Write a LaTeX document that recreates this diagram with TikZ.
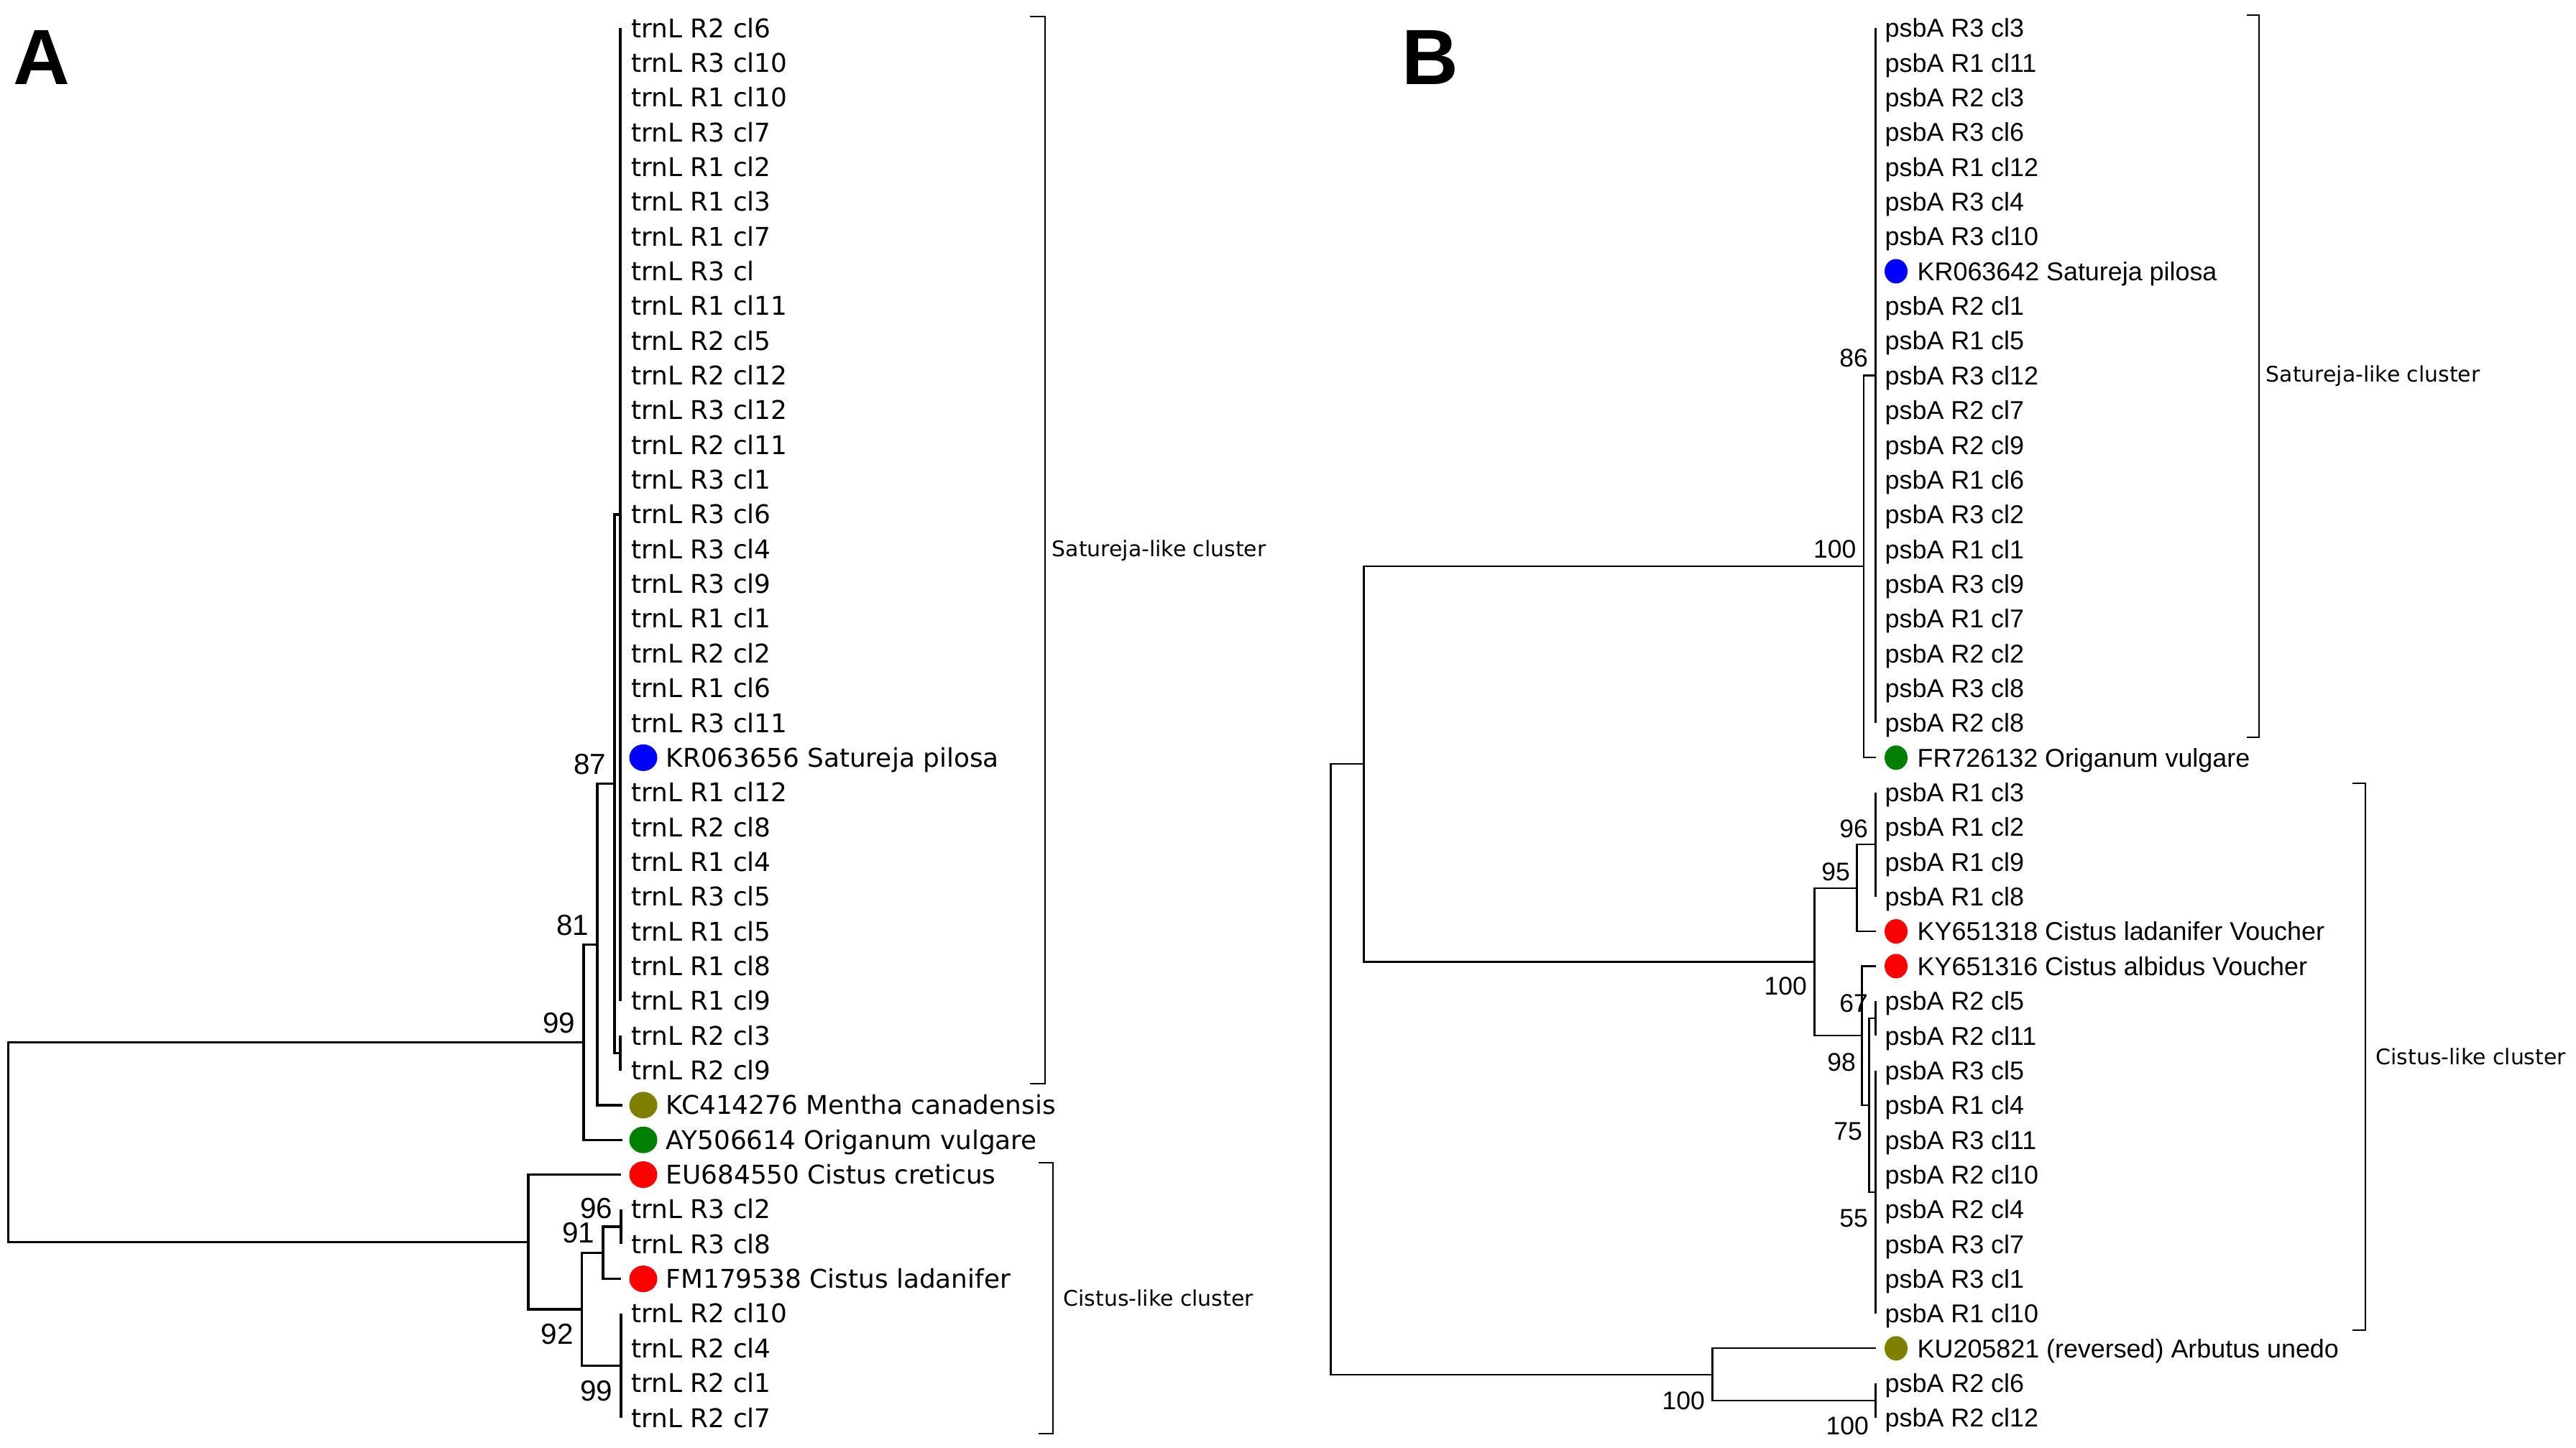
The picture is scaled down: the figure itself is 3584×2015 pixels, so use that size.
\documentclass[tikz,border=0pt]{standalone}
\usepackage{fontspec}
\setmainfont{Liberation Sans}
\newfontfamily\leaffontA{DejaVu Sans}
\usepackage{tikz}
\usetikzlibrary{calc,shapes.geometric}

\definecolor{dotblue}{RGB}{0,0,255}
\definecolor{dotgreen}{RGB}{0,128,0}
\definecolor{dotolive}{RGB}{128,128,0}
\definecolor{dotred}{RGB}{255,0,0}

\tikzset{
	branchA/.style={line width=0.95pt},
	branchB/.style={line width=0.6pt},
	bracket/.style={line width=0.6pt},
	leafA/.style={anchor=west, inner sep=0pt, font=\leaffontA\fontsize{10.2}{12}\selectfont, text height=7.4pt, text depth=0pt},
	leafB/.style={anchor=west, inner sep=0pt, font=\fontsize{10.2}{12}\selectfont, text height=7.3pt, text depth=0pt},
	bootA/.style={anchor=east, inner sep=0pt, font=\fontsize{11.5}{13}\selectfont},
	bootB/.style={anchor=east, inner sep=0pt, font=\fontsize{10.1}{12}\selectfont},
	dotA/.style={ellipse, inner sep=0pt, minimum width=0.39cm, minimum height=0.37cm},
	dotB/.style={ellipse, inner sep=0pt, minimum width=0.32cm, minimum height=0.34cm},
	cluster/.style={anchor=west, inner sep=0pt, font=\leaffontA\fontsize{8.5}{10}\selectfont},
	panel/.style={anchor=west, inner sep=0pt, font=\bfseries\fontsize{31}{36}\selectfont},
}

\begin{document}
\begin{tikzpicture}[x=0.01cm, y=-0.01cm]
	\useasboundingbox (0,0) rectangle (3584,2015);

	\node[panel] (panA) at (18,80) {A};
	\node[panel] (panB) at (1950,80) {B};

	% panel A: trnL tree
	\foreach \i/\lab in {1/trnL R2 cl6, 2/trnL R3 cl10, 3/trnL R1 cl10, 4/trnL R3 cl7, 5/trnL R1 cl2, 6/trnL R1 cl3, 7/trnL R1 cl7, 8/trnL R3 cl, 9/trnL R1 cl11, 10/trnL R2 cl5, 11/trnL R2 cl12, 12/trnL R3 cl12, 13/trnL R2 cl11, 14/trnL R3 cl1, 15/trnL R3 cl6, 16/trnL R3 cl4, 17/trnL R3 cl9, 18/trnL R1 cl1, 19/trnL R2 cl2, 20/trnL R1 cl6, 21/trnL R3 cl11, 23/trnL R1 cl12, 24/trnL R2 cl8, 25/trnL R1 cl4, 26/trnL R3 cl5, 27/trnL R1 cl5, 28/trnL R1 cl8, 29/trnL R1 cl9, 30/trnL R2 cl3, 31/trnL R2 cl9, 35/trnL R3 cl2, 36/trnL R3 cl8, 38/trnL R2 cl10, 39/trnL R2 cl4, 40/trnL R2 cl1, 41/trnL R2 cl7}
		\node[leafA] (aL\i) at (878,{39+(\i-1)*48.35}) {\lab};
	\foreach \i/\col/\lab in {22/dotblue/KR063656 Satureja pilosa, 32/dotolive/KC414276 Mentha canadensis, 33/dotgreen/AY506614 Origanum vulgare, 34/dotred/EU684550 Cistus creticus, 37/dotred/FM179538 Cistus ladanifer} {
		\node[dotA, fill=\col] (aD\i) at (895,{39+(\i-1)*48.35}) {};
		\node[leafA] (aL\i) at (926,{39+(\i-1)*48.35}) {\lab};
	}

	\coordinate (aRoot) at (11.5,1589.2);
	\coordinate (a99) at (812,1450.2);
	\coordinate (a81) at (831,1314.2);
	\coordinate (a87) at (855,1090.6);
	\coordinate (aP1) at (863,715.9);
	\coordinate (aP2) at (863,1465.3);
	\coordinate (aT32) at (866,1537.85);
	\coordinate (aT33) at (866,1586.2);
	\coordinate (aC) at (735,1728.2);
	\coordinate (aT34) at (864,1634.55);
	\coordinate (a92) at (809.5,1821.9);
	\coordinate (a91) at (839,1743.3);
	\coordinate (aP3) at (864,1707.1);
	\coordinate (aT37) at (864,1779.6);
	\coordinate (aP4) at (864,1900.5);

	\draw[branchA] (aRoot) |- (a99);
	\draw[branchA] (aRoot) |- (aC);
	\draw[branchA] (a99) |- (a81);
	\draw[branchA] (a99) |- (aT33);
	\draw[branchA] (a81) |- (a87);
	\draw[branchA] (a81) |- (aT32);
	\draw[branchA] (a87) |- (aP1);
	\draw[branchA] (a87) |- (aP2);
	\draw[branchA] (aC) |- (aT34);
	\draw[branchA] (aC) |- (a92);
	\draw[branchA] (a92) |- (a91);
	\draw[branchA] (a92) |- (aP4);
	\draw[branchA] (a91) |- (aP3);
	\draw[branchA] (a91) |- (aT37);
	\draw[branchA] (aP1 |- aL1) -- (aP1 |- aL29);
	\draw[branchA] (aP2 |- aL30) -- (aP2 |- aL31);
	\draw[branchA] (aP3 |- aL35) -- (aP3 |- aL36);
	\draw[branchA] (aP4 |- aL38) -- (aP4 |- aL41);

	\node[bootA] (nA87) at ($(a87)+(-11,-27)$) {87};
	\node[bootA] (nA81) at ($(a81)+(-11,-27)$) {81};
	\node[bootA] (nA99) at ($(a99)+(-11,-27)$) {99};
	\node[bootA] (nA96) at ($(aP3)+(-11,-26)$) {96};
	\node[bootA] (nA91) at ($(a91)+(-11,-28)$) {91};
	\node[bootA] (nA92) at ($(a92)+(-11,35)$) {92};
	\node[bootA] (nA99b) at ($(aP4)+(-11,35)$) {99};

	\draw[bracket] (1433,23) -- (1454,23) -- (1454,1508) -- (1433,1508);
	\node[cluster] (aSat) at (1463,766) {Satureja-like cluster};
	\draw[bracket] (1445,1618) -- (1465,1618) -- (1465,1995) -- (1445,1995);
	\node[cluster] (aCis) at (1479,1806) {Cistus-like cluster};

	% panel B: psbA tree
	\foreach \i/\lab in {1/psbA R3 cl3, 2/psbA R1 cl11, 3/psbA R2 cl3, 4/psbA R3 cl6, 5/psbA R1 cl12, 6/psbA R3 cl4, 7/psbA R3 cl10, 9/psbA R2 cl1, 10/psbA R1 cl5, 11/psbA R3 cl12, 12/psbA R2 cl7, 13/psbA R2 cl9, 14/psbA R1 cl6, 15/psbA R3 cl2, 16/psbA R1 cl1, 17/psbA R3 cl9, 18/psbA R1 cl7, 19/psbA R2 cl2, 20/psbA R3 cl8, 21/psbA R2 cl8, 23/psbA R1 cl3, 24/psbA R1 cl2, 25/psbA R1 cl9, 26/psbA R1 cl8, 29/psbA R2 cl5, 30/psbA R2 cl11, 31/psbA R3 cl5, 32/psbA R1 cl4, 33/psbA R3 cl11, 34/psbA R2 cl10, 35/psbA R2 cl4, 36/psbA R3 cl7, 37/psbA R3 cl1, 38/psbA R1 cl10, 40/psbA R2 cl6, 41/psbA R2 cl12}
		\node[leafB] (bL\i) at (2622,{39+(\i-1)*48.35}) {\lab};
	\foreach \i/\col/\lab in {8/dotblue/KR063642 Satureja pilosa, 22/dotgreen/FR726132 Origanum vulgare, 27/dotred/KY651318 Cistus ladanifer Voucher, 28/dotred/KY651316 Cistus albidus Voucher, 39/dotolive/KU205821 (reversed) Arbutus unedo} {
		\node[dotB, fill=\col] (bD\i) at (2638,{39+(\i-1)*48.35}) {};
		\node[leafB] (bL\i) at (2667,{39+(\i-1)*48.35}) {\lab};
	}

	\coordinate (bRoot) at (1851.5,1488);
	\coordinate (bX) at (1897.5,1063.4);
	\coordinate (bS) at (2593,788.4);
	\coordinate (bP1) at (2609.5,522.5);
	\coordinate (bT22) at (2609.5,1054.35);
	\coordinate (bC) at (2524.5,1338.5);
	\coordinate (b95) at (2583.5,1235.7);
	\coordinate (bP2) at (2609.5,1175.2);
	\coordinate (bT27) at (2609.5,1296.1);
	\coordinate (b98) at (2590.5,1441.2);
	\coordinate (bT28) at (2609.5,1344.45);
	\coordinate (b75) at (2600.5,1537.9);
	\coordinate (bP3) at (2609.5,1417);
	\coordinate (bP4) at (2609.5,1658.7);
	\coordinate (bO) at (2382.5,1912.6);
	\coordinate (bT39) at (2609.5,1876.3);
	\coordinate (bP5) at (2609.5,1948.8);

	\draw[branchB] (bRoot) |- (bX);
	\draw[branchB] (bRoot) |- (bO);
	\draw[branchB] (bX) |- (bS);
	\draw[branchB] (bX) |- (bC);
	\draw[branchB] (bS) |- (bP1);
	\draw[branchB] (bS) |- (bT22);
	\draw[branchB] (bC) |- (b95);
	\draw[branchB] (bC) |- (b98);
	\draw[branchB] (b95) |- (bP2);
	\draw[branchB] (b95) |- (bT27);
	\draw[branchB] (b98) |- (bT28);
	\draw[branchB] (b98) |- (b75);
	\draw[branchB] (b75) |- (bP3);
	\draw[branchB] (b75) |- (bP4);
	\draw[branchB] (bO) |- (bT39);
	\draw[branchB] (bO) |- (bP5);
	\draw[branchB] (bP1 |- bL1) -- (bP1 |- bL21);
	\draw[branchB] (bP2 |- bL23) -- (bP2 |- bL26);
	\draw[branchB] (bP3 |- bL29) -- (bP3 |- bL30);
	\draw[branchB] (bP4 |- bL31) -- (bP4 |- bL38);
	\draw[branchB] (bP5 |- bL40) -- (bP5 |- bL41);

	\node[bootB] (nB86) at ($(bP1)+(-10,-24)$) {86};
	\node[bootB] (nB100s) at ($(bS)+(-10,-24)$) {100};
	\node[bootB] (nB96) at ($(bP2)+(-10,-22)$) {96};
	\node[bootB] (nB95) at ($(b95)+(-9,-22)$) {95};
	\node[bootB] (nB100c) at ($(bC)+(-10,34)$) {100};
	\node[bootB] (nB67) at ($(bP3)+(-10,-21)$) {67};
	\node[bootB] (nB98) at ($(b98)+(-8,37)$) {98};
	\node[bootB] (nB75) at ($(b75)+(-9,37)$) {75};
	\node[bootB] (nB55) at ($(bP4)+(-10,37)$) {55};
	\node[bootB] (nB100o) at ($(bO)+(-10,37)$) {100};
	\node[bootB] (nB100r) at ($(bP5)+(-9,35)$) {100};

	\draw[bracket] (3126,21) -- (3143,21) -- (3143,1026) -- (3126,1026);
	\node[cluster] (bSat) at (3152,523) {Satureja-like cluster};
	\draw[bracket] (3273,1090) -- (3291,1090) -- (3291,1851) -- (3273,1851);
	\node[cluster] (bCis) at (3305,1470) {Cistus-like cluster};
\end{tikzpicture}
\end{document}
